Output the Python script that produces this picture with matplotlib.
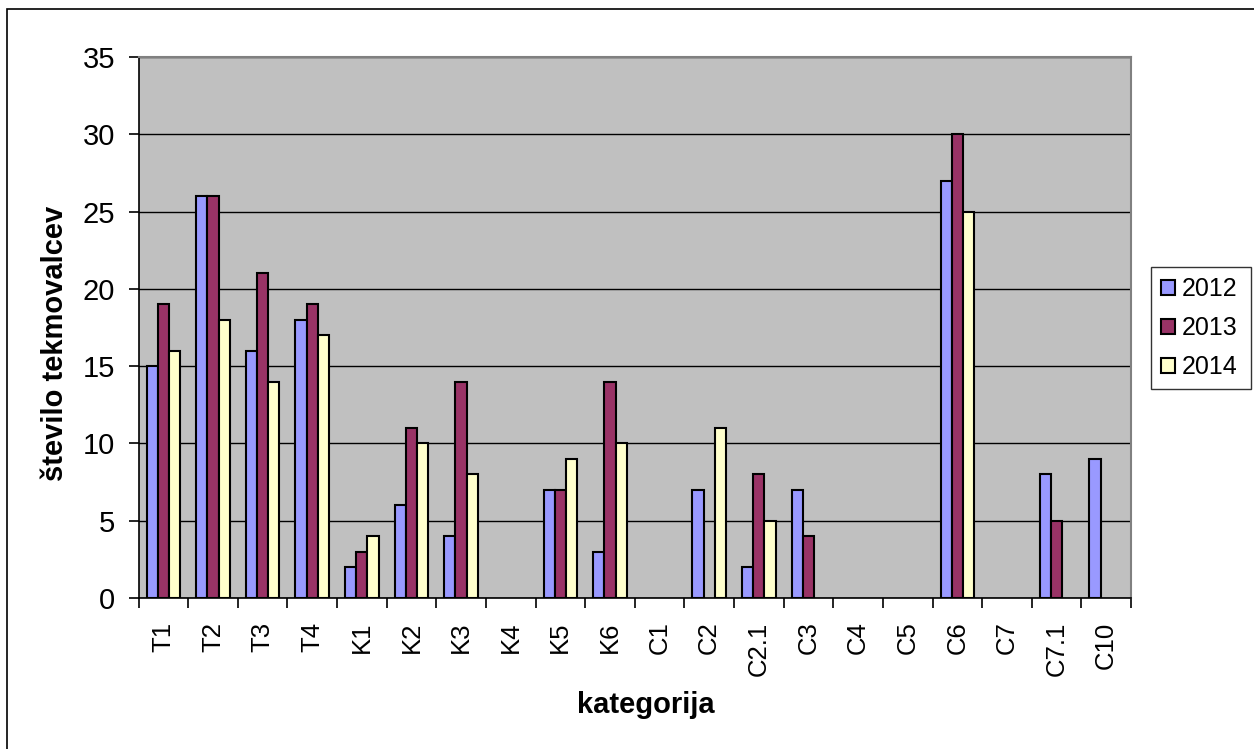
import matplotlib
matplotlib.use('Agg')
import matplotlib.pyplot as plt
import numpy as np
from matplotlib.patches import Rectangle

# categories and participant counts per year
categories = ['T1', 'T2', 'T3', 'T4', 'K1', 'K2', 'K3', 'K4', 'K5', 'K6',
              'C1', 'C2', 'C2.1', 'C3', 'C4', 'C5', 'C6', 'C7', 'C7.1', 'C10']
years = ['2012', '2013', '2014']
counts_2012 = [15, 26, 16, 18, 2, 6, 4, 0, 7, 3, 0, 7, 2, 7, 0, 0, 27, 0, 8, 9]
counts_2013 = [19, 26, 21, 19, 3, 11, 14, 0, 7, 14, 0, 0, 8, 4, 0, 0, 30, 0, 5, 0]
counts_2014 = [16, 18, 14, 17, 4, 10, 8, 0, 9, 10, 0, 11, 5, 0, 0, 0, 25, 0, 0, 0]
colors = ['#9999FF', '#993366', '#FFFFCC']

plt.rcParams['font.family'] = ['Liberation Sans', 'DejaVu Sans']

W, H = 1254, 749
fig = plt.figure(figsize=(W / 100, H / 100), dpi=100)
left, right, top, bottom = 138.5, 1131, 57, 598
ax = fig.add_axes([left / W, 1 - bottom / H, (right - left) / W, (bottom - top) / H])
ax.set_facecolor('#C0C0C0')

# outer chart frame (only left and top edges are inside the image)
fig.patches.append(Rectangle((7 / W, -0.1), 1.2, 1 - 9 / H + 0.1,
                             transform=fig.transFigure, fill=False,
                             edgecolor='black', linewidth=1.2))

x = np.arange(len(categories))
width = 0.225
series = [counts_2012, counts_2013, counts_2014]
for i, (vals, c, lab) in enumerate(zip(series, colors, years)):
    vals = np.array(vals, dtype=float)
    keep = vals > 0  # empty categories draw no bar at all
    ax.bar(x[keep] + (i - 1) * width, vals[keep], width, color=c,
           edgecolor='black', linewidth=1.5, label=lab, zorder=3)

ax.set_xlim(-0.5, len(categories) - 0.5)
ax.set_ylim(0, 35)
ax.set_yticks(np.arange(0, 36, 5))
ax.yaxis.grid(True, color='black', linewidth=1, zorder=1)
ax.set_axisbelow(True)

ax.set_xticks(x)
ax.set_xticklabels(categories, rotation=90, fontsize=18.5)
ax.set_xticks(np.arange(-0.5, len(categories)), minor=True)
ax.tick_params(axis='x', which='major', length=0, pad=17)
ax.tick_params(axis='x', which='minor', length=7, width=1.2, direction='out')
ax.tick_params(axis='y', labelsize=21, length=7, width=1.2, direction='out', pad=10)

for s in ['top', 'right']:
    ax.spines[s].set_color('#808080')
    ax.spines[s].set_linewidth(1.5)
for s in ['left', 'bottom']:
    ax.spines[s].set_color('black')
    ax.spines[s].set_linewidth(1.2)

ax.set_xlabel('kategorija', fontsize=21, fontweight='bold')
ax.xaxis.set_label_coords((646 - left) / (right - left), (bottom - 691) / (bottom - top))
ax.set_ylabel('število tekmovalcev', fontsize=21, fontweight='bold')
ax.yaxis.set_label_coords((69 - left) / (right - left), (bottom - 343) / (bottom - top))

leg = ax.legend(loc='center left', bbox_to_anchor=(1151 / W, 1 - 391 / H, 100 / W, 126 / H),
                bbox_transform=fig.transFigure, mode='expand', borderaxespad=0,
                fontsize=18, frameon=True, fancybox=False, handlelength=0.56,
                handleheight=0.56, handletextpad=0.28, labelspacing=0.6,
                borderpad=0.4)
leg.get_frame().set_edgecolor('black')
leg.get_frame().set_linewidth(1.0)

fig.savefig('out.png', dpi=100)
